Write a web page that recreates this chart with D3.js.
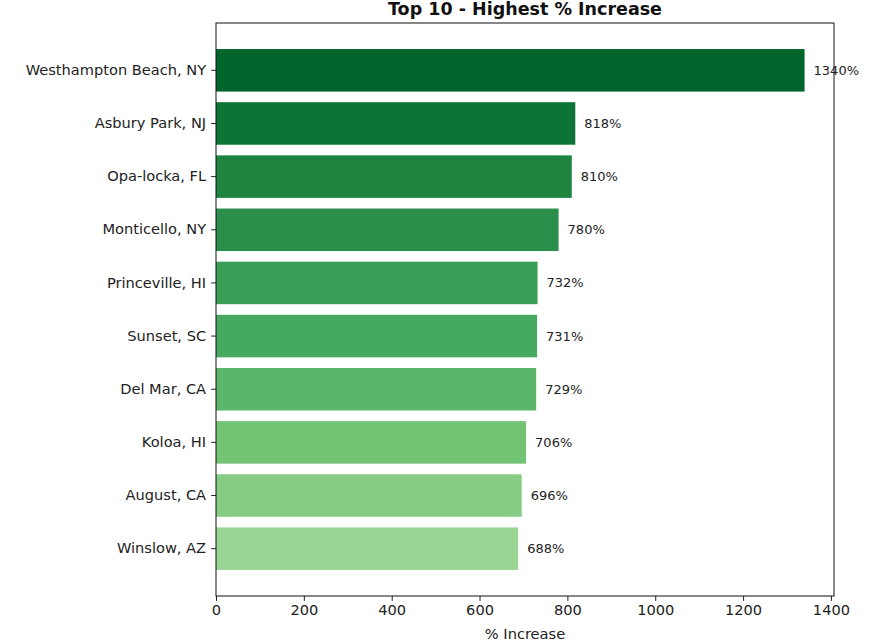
<!DOCTYPE html>
<html>
<head>
<meta charset="utf-8">
<script src="https://cdn.jsdelivr.net/npm/d3@7"></script>
<style>
  body { margin: 0; background: #fff; }
  text { font-family: "DejaVu Sans", sans-serif; }
</style>
</head>
<body>
<svg></svg>
<script>
var cities = ['Westhampton Beach, NY', 'Asbury Park, NJ', 'Opa-locka, FL', 'Monticello, NY',
  'Princeville, HI', 'Sunset, SC', 'Del Mar, CA', 'Koloa, HI', 'August, CA', 'Winslow, AZ'];
var increases = [1340, 818, 810, 780, 732, 731, 729, 706, 696, 688];
var barColors = ['#00652a', '#0c7535', '#1e843f', '#2b8f4b', '#389d55', '#45a95f',
  '#5ab769', '#72c374', '#87cc84', '#9ad596'];
var xTicks = [0, 200, 400, 600, 800, 1000, 1200, 1400];

var margin = { top: 23, right: 42, bottom: 48, left: 216 };
var width = 876 - margin.left - margin.right;
var height = 644 - margin.top - margin.bottom;

var svg = d3.select('svg')
  .attr('width', 876)
  .attr('height', 644);
var g = svg.append('g')
  .attr('transform', 'translate(' + margin.left + ',' + margin.top + ')');

var data = cities.map(function(c, i) {
  return { city: c, value: increases[i], color: barColors[i] };
});

var scaleX = d3.scaleLinear()
  .domain([0, d3.max(increases) * 1.05])
  .range([0, width]);

// bar height 0.8 of a step, 5% margins like matplotlib
var scaleY = d3.scaleBand()
  .domain(cities)
  .range([0, height])
  .paddingInner(0.2)
  .paddingOuter(0.49);

g.selectAll('.bar')
  .data(data)
  .enter().append('rect')
  .attr('class', 'bar')
  .attr('x', 0)
  .attr('y', function(d) { return scaleY(d.city); })
  .attr('width', function(d) { return scaleX(d.value); })
  .attr('height', scaleY.bandwidth())
  .attr('fill', function(d) { return d.color; });

g.selectAll('.val')
  .data(data)
  .enter().append('text')
  .attr('class', 'val')
  .attr('x', function(d) { return scaleX(d.value) + 9; })
  .attr('y', function(d) { return scaleY(d.city) + scaleY.bandwidth() / 2; })
  .attr('dy', '0.35em')
  .attr('font-size', 13)
  .attr('fill', '#222')
  .text(function(d) { return d.value + '%'; });

var xAxis = d3.axisBottom(scaleX)
  .tickValues(xTicks)
  .tickSize(4.9)
  .tickPadding(4)
  .tickFormat(d3.format('d'));

var yAxis = d3.axisLeft(scaleY)
  .tickSize(4.9)
  .tickPadding(5);

var gx = g.append('g')
  .attr('transform', 'translate(0,' + height + ')')
  .call(xAxis);
var gy = g.append('g').call(yAxis);

[gx, gy].forEach(function(a) {
  a.select('.domain').remove();
  a.selectAll('text')
    .attr('font-size', 14.6)
    .attr('fill', '#222')
    .style('font-family', '"DejaVu Sans", sans-serif');
  a.selectAll('line').attr('stroke', '#222');
});

// frame
g.append('rect')
  .attr('x', 0)
  .attr('y', 0)
  .attr('width', width)
  .attr('height', height)
  .attr('fill', 'none')
  .attr('stroke', '#111')
  .attr('stroke-width', 1);

svg.append('text')
  .attr('x', margin.left + width / 2)
  .attr('y', 15)
  .attr('text-anchor', 'middle')
  .attr('font-size', 17.5)
  .attr('font-weight', 'bold')
  .attr('fill', '#111')
  .text('Top 10 - Highest % Increase');

svg.append('text')
  .attr('x', margin.left + width / 2)
  .attr('y', 639)
  .attr('text-anchor', 'middle')
  .attr('font-size', 14.6)
  .attr('fill', '#222')
  .text('% Increase');
</script>
</body>
</html>
